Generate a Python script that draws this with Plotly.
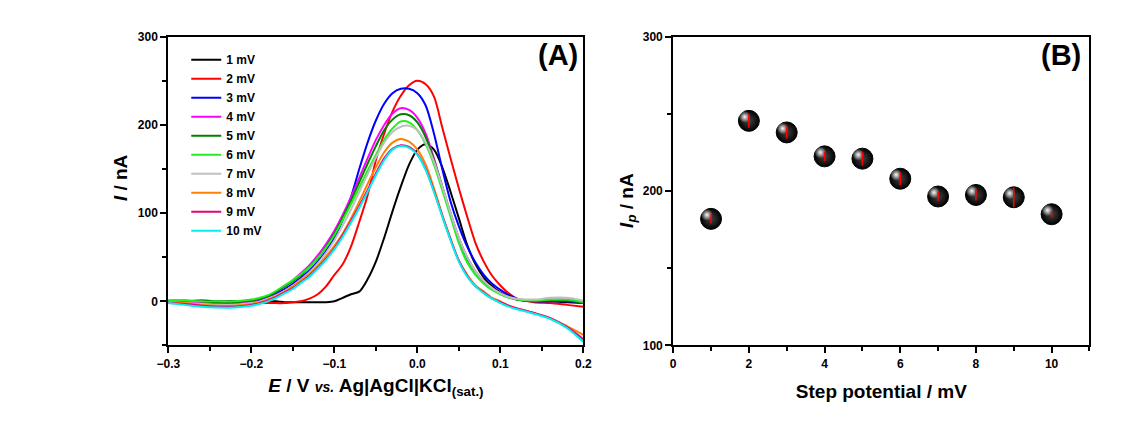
import plotly.graph_objects as go

# ---------------- Panel A: voltammograms at different step potentials ----------------
potential_V = [-0.30, -0.28, -0.26, -0.24, -0.22, -0.20, -0.19, -0.18, -0.17, -0.16,
               -0.15, -0.14, -0.13, -0.12, -0.11, -0.10, -0.09, -0.08, -0.07, -0.06,
               -0.05, -0.04, -0.03, -0.02, -0.01, 0.00, 0.01, 0.02, 0.03, 0.04,
               0.05, 0.06, 0.07, 0.08, 0.09, 0.10, 0.11, 0.12, 0.14, 0.16,
               0.18, 0.20]

i_1mV = [0, 0, 1, 0, 0, 0, 0, 0, 0, -1,
         -1, -1, -1, -1, -1, 0, 4, 8, 11, 25,
         45, 72, 102, 130, 155, 172, 178, 172, 152, 124,
         94, 64, 42, 27, 17, 10, 5, 2, 0, 0,
         -1, -2]
i_2mV = [0, 0, -1, -1, -2, -2, -2, -2, -2, -2,
         -1, 0, 3, 8, 17, 30, 42, 62, 90, 120,
         160, 190, 215, 233, 245, 250, 246, 232, 197, 162,
         128, 96, 66, 45, 29, 18, 9, 3, -1, -2,
         -4, -6]
i_3mV = [-1, -2, -3, -3, -3, 0, 2, 5, 9, 14,
         20, 27, 35, 45, 57, 72, 92, 118, 150, 180,
         205, 224, 236, 241, 241, 236, 222, 190, 150, 113,
         85, 62, 44, 30, 20, 13, 7, 3, 0, 0,
         0, -2]
i_4mV = [0, 0, -2, -3, -2, 0, 3, 6, 11, 17,
         24, 32, 41, 52, 65, 80, 98, 118, 140, 162,
         183, 200, 213, 219, 217, 208, 190, 162, 130, 100,
         72, 50, 34, 23, 15, 9, 5, 2, 1, 2,
         2, -1]
i_5mV = [1, 1, 0, -1, -1, 1, 3, 6, 11, 17,
         23, 30, 39, 49, 62, 77, 95, 114, 135, 156,
         176, 194, 206, 212, 211, 203, 186, 160, 130, 99,
         70, 48, 33, 22, 14, 9, 5, 2, 0, 1,
         1, -2]
i_6mV = [1, 1, 0, 0, 0, 2, 4, 7, 12, 18,
         24, 31, 39, 49, 61, 75, 92, 110, 129, 148,
         166, 183, 196, 204, 203, 194, 178, 155, 126, 96,
         66, 44, 30, 20, 13, 8, 4, 2, 1, 2,
         2, -1]
i_7mV = [-1, -2, -3, -4, -4, -2, 0, 3, 7, 12,
         18, 25, 33, 43, 55, 69, 86, 104, 124, 144,
         163, 180, 192, 198, 199, 194, 180, 158, 130, 100,
         72, 50, 34, 23, 15, 9, 5, 3, 2, 4,
         4, 1]
i_8mV = [-1, -2, -4, -5, -5, -3, -1, 2, 6, 11,
         17, 24, 31, 40, 51, 63, 77, 94, 113, 133,
         152, 169, 180, 184, 181, 172, 155, 128, 98, 71,
         46, 30, 18, 11, 4, 0, -5, -8, -13, -19,
         -28, -38]
i_9mV = [-2, -3, -5, -6, -6, -4, -2, 1, 5, 10,
         15, 22, 29, 38, 48, 60, 75, 91, 108, 126,
         145, 162, 173, 177, 175, 167, 150, 125, 97, 70,
         46, 29, 17, 10, 3, -1, -5, -8, -13, -19,
         -29, -43]
i_10mV = [-2, -4, -6, -7, -7, -5, -3, 0, 4, 9,
          14, 21, 28, 37, 47, 59, 73, 89, 106, 124,
          143, 160, 172, 176, 174, 166, 149, 124, 96, 69,
          45, 28, 17, 9, 3, -2, -6, -9, -14, -20,
          -30, -46]

series_labels = ["1 mV", "2 mV", "3 mV", "4 mV", "5 mV",
                 "6 mV", "7 mV", "8 mV", "9 mV", "10 mV"]
series_currents = [i_1mV, i_2mV, i_3mV, i_4mV, i_5mV,
                   i_6mV, i_7mV, i_8mV, i_9mV, i_10mV]
series_colors = ["#000000", "#ff0000", "#0000ff", "#ff00ff", "#008000",
                 "#22ee22", "#c0c0c0", "#ff8000", "#e8007a", "#00f0f0"]

# ---------------- Panel B: peak current vs step potential ----------------
step_mV = [1, 2, 3, 4, 5, 6, 7, 8, 9, 10]
peak_nA = [182, 245.5, 238, 222.5, 221, 208, 196.5, 197.5, 196, 185]
peak_err = [3, 4.5, 4, 3, 4.5, 4, 3, 3.5, 6.5, 2]

FONT = "Liberation Sans, Arial, Helvetica, sans-serif"

XB_RANGE = [0, 11]
YB_RANGE = [100, 300]
# the glossy highlight sits a few pixels up and to the left of each sphere centre
HL_DX = 0.11   # in mV units (~4 px)
HL_DY = 2.6    # in nA units (~4 px)

fig = go.Figure()

for label, cur, col in zip(series_labels, series_currents, series_colors):
    fig.add_trace(go.Scatter(
        x=potential_V, y=cur, name=label, mode="lines",
        line=dict(color=col, width=2, shape="spline", smoothing=0.8),
        xaxis="x", yaxis="y",
    ))

# black spheres
fig.add_trace(go.Scatter(
    x=step_mV, y=peak_nA, mode="markers", showlegend=False,
    marker=dict(size=21, color="#000000",
                gradient=dict(type="radial", color="#444444"),
                line=dict(color="#000000", width=1)),
    xaxis="x2", yaxis="y2",
))
# specular highlight on each sphere
fig.add_trace(go.Scatter(
    x=step_mV, y=peak_nA, mode="markers", showlegend=False,
    marker=dict(size=12, color="rgba(255,255,255,0)",
                gradient=dict(type="radial", color="rgba(255,255,255,0.97)"),
                line=dict(width=0)),
    xaxis="x3", yaxis="y3", hoverinfo="skip",
))
# red error bars drawn above the spheres
fig.add_trace(go.Scatter(
    x=step_mV, y=peak_nA, mode="markers", showlegend=False,
    marker=dict(size=1, color="rgba(0,0,0,0)"),
    error_y=dict(type="data", array=peak_err, color="#ff0000",
                 thickness=1.5, width=0),
    xaxis="x4", yaxis="y4",
))

axis_common = dict(
    showline=True, linecolor="black", linewidth=2, mirror=True,
    ticks="outside", ticklen=6, tickwidth=1.5, tickcolor="black",
    showgrid=False, zeroline=False,
    tickfont=dict(family=FONT, size=12, color="black", weight="bold"),
    automargin=False,
)
hidden_axis = dict(visible=False, showgrid=False, zeroline=False, automargin=False)

title_font = dict(family=FONT, size=19, color="black", weight="bold")
label_font = dict(family=FONT, size=29, color="black", weight="bold")

fig.update_layout(
    width=1122, height=427,
    margin=dict(l=0, r=0, t=0, b=0),
    paper_bgcolor="white", plot_bgcolor="white",
    font=dict(family=FONT, color="black"),
    xaxis=dict(
        **axis_common, domain=[0.150, 0.520], range=[-0.3, 0.2],
        dtick=0.1, tick0=-0.3, tickformat=".1f",
        minor=dict(ticks="outside", ticklen=4, dtick=0.05, tickcolor="black", tickwidth=1.5),
        title=dict(
            text="<i>E</i> / V <i><span style='font-size:14px'>vs.</span></i> Ag|AgCl|KCl<sub>(sat.)</sub>",
            font=title_font, standoff=9),
        anchor="y",
    ),
    yaxis=dict(
        **axis_common, domain=[0.191, 0.914], range=[-50, 300],
        dtick=100, tick0=0,
        minor=dict(ticks="outside", ticklen=4, dtick=50, tickcolor="black", tickwidth=1.5),
        anchor="x",
    ),
    xaxis2=dict(
        **axis_common, domain=[0.600, 0.971], range=XB_RANGE,
        dtick=2, tick0=0,
        minor=dict(ticks="outside", ticklen=4, dtick=1, tickcolor="black", tickwidth=1.5),
        title=dict(text="Step potential / mV", font=title_font, standoff=15),
        anchor="y2",
    ),
    yaxis2=dict(
        **axis_common, domain=[0.191, 0.914], range=YB_RANGE,
        dtick=100, tick0=100,
        minor=dict(ticks="outside", ticklen=4, dtick=50, tickcolor="black", tickwidth=1.5),
        anchor="x2",
    ),
    xaxis3=dict(**hidden_axis, overlaying="x2", anchor="y3",
                range=[XB_RANGE[0] + HL_DX, XB_RANGE[1] + HL_DX]),
    yaxis3=dict(**hidden_axis, overlaying="y2", anchor="x3",
                range=[YB_RANGE[0] - HL_DY, YB_RANGE[1] - HL_DY]),
    xaxis4=dict(**hidden_axis, overlaying="x2", anchor="y4", range=XB_RANGE),
    yaxis4=dict(**hidden_axis, overlaying="y2", anchor="x4", range=YB_RANGE),
    legend=dict(
        x=0.166, y=0.894, xanchor="left", yanchor="top",
        bgcolor="rgba(0,0,0,0)", borderwidth=0,
        font=dict(family=FONT, size=12, color="black", weight="bold"),
        tracegroupgap=0, itemwidth=30,
    ),
    annotations=[
        # y-axis titles
        dict(text="<i>I</i> / nA", x=0.107, y=0.583, xref="paper", yref="paper",
             xanchor="center", yanchor="middle", textangle=-90, showarrow=False,
             font=title_font),
        dict(text="<i>I</i><sub><i>p</i></sub> / nA", x=0.559, y=0.530,
             xref="paper", yref="paper", xanchor="center", yanchor="middle",
             textangle=-90, showarrow=False, font=title_font),
        # panel labels
        dict(text="(A)", x=0.517, y=0.871, xref="paper", yref="paper",
             xanchor="right", yanchor="middle", showarrow=False, font=label_font),
        dict(text="(B)", x=0.965, y=0.871, xref="paper", yref="paper",
             xanchor="right", yanchor="middle", showarrow=False, font=label_font),
    ],
)

fig.write_html("out.html")
